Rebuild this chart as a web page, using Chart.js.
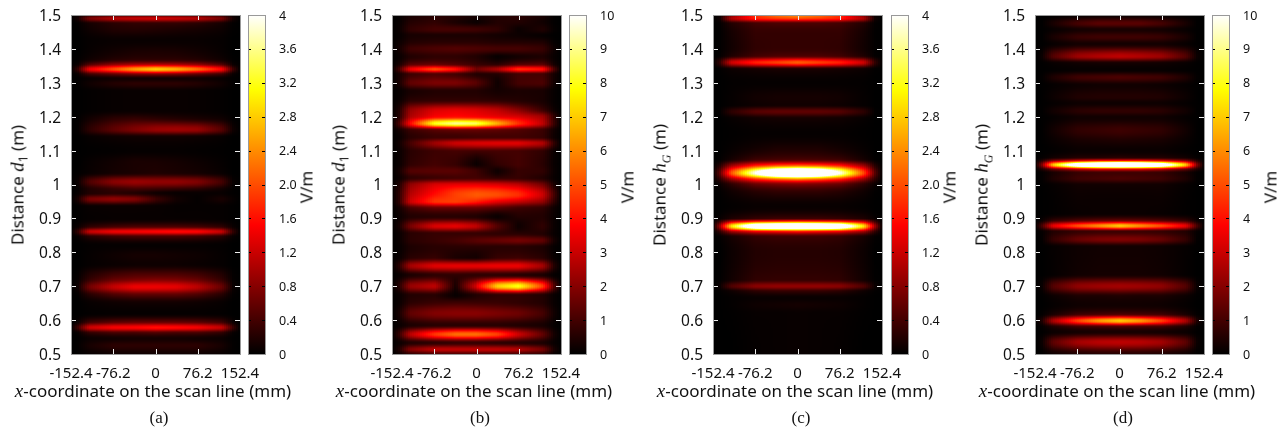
<!DOCTYPE html>
<html>
<head>
<meta charset="utf-8">
<script src="https://cdn.jsdelivr.net/npm/chart.js@4"></script>
<style>
	html, body { margin: 0; padding: 0; background: #fff; }
	#page { position: relative; width: 1286px; height: 431px; overflow: hidden; }
	canvas { position: absolute; top: 0; }
	.txt { position: absolute; white-space: nowrap; color: #111; font-family: "Noto Sans", sans-serif; font-size: 17px; transform: translate(-50%, -50%); }
	.txt i { font-family: "Liberation Serif", serif; font-size: 19px; }
	.txt sub { font-size: 12px; line-height: 0; }
	.rot { transform: translate(-50%, -50%) rotate(-90deg); }
	.cap { font-family: "Liberation Serif", serif; font-size: 17px; }
</style>
</head>
<body>
<div id="page"></div>
<script>
const scanX = [-152.4, -140, -120, -76.2, -38.1, 0, 38.1, 76.2, 120, 140, 152.4]

const xTicks = [-152.4, -76.2, 0, 76.2, 152.4]
const yTicks = [0.5, 0.6, 0.7, 0.8, 0.9, 1, 1.1, 1.2, 1.3, 1.4, 1.5]
const barTicks4 = ["0", "0.4", "0.8", "1.2", "1.6", "2.0", "2.4", "2.8", "3.2", "3.6", "4"]
const barTicks10 = ["0", "1", "2", "3", "4", "5", "6", "7", "8", "9", "10"]

// palette stops, fraction of range -> colour
const paletteStops = [0, 0.38, 0.78, 1]
const paletteColors = [[0, 0, 0], [255, 0, 0], [255, 255, 0], [255, 255, 255]]

//panel a
const distA = [1.5, 1.49, 1.475, 1.455, 1.425, 1.395, 1.37, 1.355, 1.34, 1.325, 1.312, 1.298, 1.275, 1.22, 1.195, 1.162, 1.14, 1.1, 1.065, 1.035, 1.008, 0.985, 0.975, 0.957, 0.935, 0.9, 0.876, 0.861, 0.846, 0.82, 0.79, 0.765, 0.738, 0.72, 0.698, 0.675, 0.65, 0.62, 0.595, 0.578, 0.562, 0.545, 0.525, 0.5]
const fieldA = [
	[0, .05, .3, .5, .55, .55, .55, .5, .3, .05, 0],
	[0, .12, .7, 1.05, 1.15, 1.2, 1.15, 1.05, .7, .12, 0],
	[0, .02, .13, .25, .3, .3, .3, .25, .13, .02, 0],
	[0, .01, .08, .18, .2, .18, .15, .12, .07, .01, 0],
	[0, 0, .03, .05, .05, .05, .05, .05, .03, 0, 0],
	[0, 0, .04, .1, .14, .15, .14, .1, .04, 0, 0],
	[0, .01, .09, .2, .25, .25, .25, .2, .09, .01, 0],
	[0, .06, .45, .8, .95, 1, .95, .8, .45, .06, 0],
	[0, .3, 1.4, 2, 2.5, 2.8, 2.6, 2.2, 1.5, .35, 0],
	[0, .05, .35, .55, .7, .75, .7, .55, .35, .05, 0],
	[0, .01, .05, .1, .1, .1, .1, .1, .05, .01, 0],
	[0, .01, .09, .2, .25, .25, .25, .2, .09, .01, 0],
	[0, 0, .02, .04, .05, .05, .05, .04, .02, 0, 0],
	[0, 0, .02, .04, .05, .05, .05, .04, .02, 0, 0],
	[0, .01, .1, .25, .3, .25, .2, .15, .09, .01, 0],
	[0, .02, .25, .55, .75, .9, .95, .9, .5, .08, 0],
	[0, 0, .04, .08, .1, .1, .1, .08, .04, 0, 0],
	[0, 0, .01, .02, .03, .03, .03, .02, .01, 0, 0],
	[0, 0, .04, .1, .15, .15, .12, .08, .03, 0, 0],
	[0, .01, .05, .12, .15, .18, .15, .12, .05, 0, 0],
	[0, .06, .45, .8, .9, .85, .85, .75, .4, .04, 0],
	[0, .03, .18, .3, .35, .3, .25, .2, .09, .01, 0],
	[0, .04, .18, .25, .2, .1, .05, .05, .05, .01, 0],
	[0, .14, .7, .85, .75, .35, .1, .02, .14, .04, 0],
	[0, .01, .05, .06, .06, .05, .03, .03, .03, .01, 0],
	[0, .01, .03, .04, .04, .04, .04, .04, .03, .01, 0],
	[0, .06, .27, .4, .45, .45, .45, .4, .27, .06, 0],
	[0, .28, 1.15, 1.4, 1.45, 1.5, 1.55, 1.5, 1.15, .28, 0],
	[0, .04, .22, .35, .4, .4, .4, .35, .22, .04, 0],
	[0, 0, .02, .03, .03, .03, .03, .03, .02, 0, 0],
	[0, 0, .03, .08, .12, .12, .1, .08, .03, 0, 0],
	[0, 0, .03, .06, .08, .08, .08, .06, .03, 0, 0],
	[0, .02, .18, .35, .42, .42, .42, .35, .18, .02, 0],
	[0, .04, .3, .6, .7, .75, .72, .6, .3, .03, 0],
	[0, .08, .65, 1.15, 1.4, 1.4, 1.35, 1.1, .6, .06, 0],
	[0, .02, .22, .45, .55, .55, .55, .45, .22, .02, 0],
	[0, 0, .04, .08, .1, .1, .1, .08, .04, 0, 0],
	[0, 0, .02, .03, .03, .03, .03, .03, .02, 0, 0],
	[0, .06, .35, .5, .55, .55, .55, .5, .35, .06, 0],
	[0, .35, 1.2, 1.45, 1.5, 1.6, 1.55, 1.45, 1.15, .32, 0],
	[0, .04, .27, .4, .4, .45, .4, .4, .27, .04, 0],
	[0, .01, .07, .1, .12, .12, .12, .1, .07, .01, 0],
	[0, .02, .13, .25, .25, .25, .25, .25, .13, .02, 0],
	[0, .01, .05, .1, .1, .1, .1, .1, .05, .01, 0]
]

//panel b
const distB = [1.5, 1.48, 1.457, 1.44, 1.42, 1.4, 1.377, 1.355, 1.34, 1.325, 1.3, 1.275, 1.25, 1.22, 1.2, 1.18, 1.16, 1.14, 1.122, 1.097, 1.06, 1.04, 1.02, 1, 0.97, 0.95, 0.93, 0.905, 0.877, 0.855, 0.835, 0.815, 0.785, 0.76, 0.733, 0.7, 0.673, 0.654, 0.62, 0.585, 0.558, 0.533, 0.513, 0.5]
const fieldB = [
	[0, .05, .35, .6, .5, .3, .5, .6, .35, .05, 0],
	[0, .08, .5, .7, .4, .15, .5, .5, .25, .04, 0],
	[0, .12, .7, 1, 1, .9, .7, .15, .45, .08, 0],
	[0, .08, .35, .4, .4, .4, .3, .2, .1, .02, 0],
	[0, .15, .5, .6, .6, .6, .5, .5, .45, .08, 0],
	[0, .25, .9, 1.1, 1.2, 1.1, 1, 1, .8, .2, 0],
	[0, .12, .5, .7, .7, .5, .1, .3, .45, .12, 0],
	[0, .3, 1.3, 1.5, 1.2, .8, .6, 1.2, 1.3, .3, 0],
	[0, .9, 3.5, 5, 4, 1.6, 2.5, 4.5, 4, 1.1, 0],
	[0, .3, .9, 1.2, 1, .5, .5, 1, 1, .3, 0],
	[0, .3, 1.4, 1.8, 1.8, 1.3, .2, 1, 1.1, .25, 0],
	[0, .08, .35, .5, .5, .5, .3, .4, .35, .08, 0],
	[0, .12, .6, .7, .7, .7, .6, .5, .35, .08, 0],
	[0, .4, 2.2, 3.2, 3.4, 3.2, 2.8, 2, .85, .2, 0],
	[0, .5, 2.6, 3.8, 4, 3.8, 3.5, 3.2, 2.4, .7, 0],
	[0, 1, 3.8, 8, 9, 8.5, 6.5, 4.5, 2.8, .8, 0],
	[0, .25, .85, 1.3, 1.5, 1.5, 1.4, 1.2, .85, .25, 0],
	[0, .12, .6, .9, .9, 1, 1, 1, .8, .2, 0],
	[0, .2, 1, 2.3, 3, 3.2, 3.3, 3.3, 2.6, .7, 0],
	[0, .12, .6, .9, 1, .9, 1, 1, .7, .15, 0],
	[0, .12, .7, 1, .8, .15, .7, 1, .6, .12, 0],
	[0, .25, 1.2, 1.3, 1.3, .9, .2, .8, .7, .15, 0],
	[0, .15, .7, .9, 1, 1, .7, .8, .5, .12, 0],
	[0, .4, 2.1, 3.2, 3.4, 3.4, 3.2, 2.8, 1.7, .4, 0],
	[0, .6, 2.7, 4, 4.8, 5.2, 5, 4.5, 3, 1, 0],
	[0, .6, 3, 4.6, 4.8, 4.3, 3.5, 3, 2.2, .7, 0],
	[0, .25, 1, 1.5, 1.5, 1.5, 1.2, .9, .7, .2, 0],
	[0, .15, .5, .6, .6, .5, .15, .5, .5, .15, 0],
	[0, .3, 1.7, 3.2, 3.4, 2.8, 1.2, .2, .7, .15, 0],
	[0, .12, .6, .8, .8, .8, .7, .6, .5, .12, 0],
	[0, .12, .6, .8, 1, 1.3, 1.5, 1.7, 1.4, .3, 0],
	[0, .08, .42, .6, .6, .6, .6, .6, .42, .08, 0],
	[0, .12, .6, .8, .4, .3, .8, .9, .6, .12, 0],
	[0, .55, 2.4, 3.3, 3.4, 3.4, 3.5, 3.5, 2.4, .5, 0],
	[0, .12, .42, .7, .7, .7, .7, .6, .42, .08, 0],
	[0, .5, 2.2, 2.8, .3, 3.2, 7, 8, 4.7, 1.2, 0],
	[0, .12, .5, .6, .1, .5, .7, .7, .5, .12, 0],
	[0, .12, .6, .8, .8, .8, .8, .7, .5, .12, 0],
	[0, .3, 1.4, 1.9, 2, 2, 1.8, 1.6, 1, .25, 0],
	[0, .12, .42, .6, .6, .6, .6, .5, .35, .08, 0],
	[0, .7, 2.7, 4.6, 5.5, 5.5, 4.8, 3, 1.4, .3, 0],
	[0, .15, .5, .7, .8, .8, .7, .6, .42, .12, 0],
	[0, .4, 1.9, 2.8, 2.8, 2.8, 2.8, 2.6, 1.7, .35, 0],
	[0, .2, .85, 1.3, 1.3, 1.3, 1.3, 1.2, .85, .15, 0]
]

//panel c
const distC = [1.5, 1.49, 1.475, 1.445, 1.405, 1.38, 1.36, 1.34, 1.3, 1.255, 1.235, 1.215, 1.195, 1.15, 1.11, 1.075, 1.057, 1.034, 1.015, 1, 0.975, 0.935, 0.9, 0.893, 0.877, 0.86, 0.845, 0.8, 0.72, 0.7, 0.685, 0.665, 0.645, 0.62, 0.5]
const fieldC = [
	[0, .04, .8, 1.8, 2.2, 2.4, 2.2, 1.8, .8, .04, 0],
	[0, .08, 1, 1.7, 1.9, 2, 1.9, 1.7, 1, .08, 0],
	[0, .02, .2, .4, .45, .45, .45, .4, .2, .02, 0],
	[0, .01, .12, .3, .3, .3, .3, .3, .12, .01, 0],
	[0, .01, .1, .28, .3, .3, .3, .28, .1, .01, 0],
	[0, .02, .17, .38, .45, .45, .45, .38, .17, .02, 0],
	[0, .28, 1.2, 1.7, 1.9, 2.1, 1.9, 1.7, 1.2, .28, 0],
	[0, .01, .07, .12, .15, .15, .15, .12, .07, .01, 0],
	[0, 0, .02, .03, .03, .03, .03, .03, .02, 0, 0],
	[0, 0, .03, .1, .12, .12, .12, .1, .03, 0, 0],
	[0, 0, .03, .08, .1, .1, .1, .08, .03, 0, 0],
	[0, .01, .25, .5, .55, .55, .55, .5, .25, .01, 0],
	[0, 0, .04, .1, .12, .12, .12, .1, .04, 0, 0],
	[0, 0, .01, .03, .03, .03, .03, .03, .01, 0, 0],
	[0, 0, .03, .1, .15, .15, .15, .1, .03, 0, 0],
	[0, .01, .12, .35, .4, .42, .4, .35, .12, .01, 0],
	[0, .2, .85, 1.6, 1.9, 2, 1.9, 1.6, .85, .2, 0],
	[0, .55, 2, 4, 5.5, 6, 5.5, 4, 1.95, .5, 0],
	[0, .25, .85, 1.7, 2.1, 2.3, 2.1, 1.7, .85, .25, 0],
	[0, .06, .25, .6, .7, .75, .7, .6, .25, .06, 0],
	[0, .01, .08, .2, .25, .25, .25, .2, .08, .01, 0],
	[0, 0, .02, .05, .05, .05, .05, .05, .02, 0, 0],
	[0, .04, .17, .3, .35, .35, .35, .3, .17, .04, 0],
	[0, .25, .85, 1.3, 1.4, 1.5, 1.4, 1.3, .85, .25, 0],
	[0, .9, 2.9, 5, 5.5, 5.5, 5.5, 5, 2.9, .9, 0],
	[0, .25, .85, 1.3, 1.4, 1.5, 1.4, 1.3, .85, .25, 0],
	[0, .02, .13, .3, .35, .35, .35, .3, .13, .02, 0],
	[0, 0, .07, .2, .22, .22, .22, .2, .07, 0, 0],
	[0, .01, .1, .28, .3, .3, .3, .28, .1, .01, 0],
	[0, .06, .45, .8, .85, .85, .85, .8, .45, .06, 0],
	[0, .01, .08, .25, .3, .3, .3, .25, .08, .01, 0],
	[0, 0, .02, .05, .05, .05, .05, .05, .02, 0, 0],
	[0, 0, .02, .08, .1, .12, .1, .08, .02, 0, 0],
	[0, 0, .01, .04, .04, .05, .04, .04, .01, 0, 0],
	[0, 0, 0, .03, .04, .05, .04, .03, 0, 0, 0]
]

//panel d
const distD = [1.5, 1.475, 1.457, 1.435, 1.415, 1.378, 1.358, 1.338, 1.316, 1.293, 1.258, 1.24, 1.217, 1.198, 1.16, 1.13, 1.1, 1.08, 1.072, 1.058, 1.044, 1.034, 1.018, 0.998, 0.949, 0.915, 0.895, 0.878, 0.861, 0.838, 0.816, 0.757, 0.735, 0.7, 0.67, 0.645, 0.618, 0.598, 0.58, 0.565, 0.535, 0.5]
const fieldD = [
	[0, 0, .02, .1, .15, .15, .15, .1, .02, 0, 0],
	[0, .02, .35, 1, 1.3, 1.3, 1.3, 1, .35, .02, 0],
	[0, .01, .12, .3, .35, .35, .35, .3, .12, .01, 0],
	[0, .02, .35, .8, .9, .9, .9, .8, .35, .02, 0],
	[0, .01, .12, .3, .3, .3, .3, .3, .12, .01, 0],
	[0, .15, 1.2, 2.3, 2.6, 2.8, 2.6, 2.3, 1.2, .15, 0],
	[0, .02, .13, .25, .3, .3, .3, .25, .13, .02, 0],
	[0, .01, .05, .1, .1, .1, .1, .1, .05, .01, 0],
	[0, .04, .42, .9, 1, 1.1, 1, .9, .42, .04, 0],
	[0, .01, .08, .2, .25, .25, .25, .2, .08, .01, 0],
	[0, .01, .17, .45, .5, .5, .5, .45, .17, .01, 0],
	[0, .01, .08, .2, .2, .2, .2, .2, .08, .01, 0],
	[0, .02, .25, .6, .7, .7, .7, .6, .25, .02, 0],
	[0, .01, .08, .25, .25, .25, .25, .25, .08, .01, 0],
	[0, .01, .25, .7, .8, .9, .8, .7, .25, .01, 0],
	[0, .01, .13, .35, .4, .45, .4, .35, .13, .01, 0],
	[0, 0, .04, .15, .15, .15, .15, .15, .04, 0, 0],
	[0, .04, .25, .5, .5, .6, .5, .5, .25, .04, 0],
	[0, .4, 1.5, 2.5, 3, 3, 3, 2.5, 1.5, .4, 0],
	[0, 1.8, 6.8, 12, 14, 15, 14, 12, 6.8, 1.8, 0],
	[0, .4, 1.35, 2.5, 3, 3, 3, 2.5, 1.35, .4, 0],
	[0, .04, .35, .8, .9, .9, .9, .8, .35, .04, 0],
	[0, .04, .42, .9, 1, 1.1, 1, .9, .42, .04, 0],
	[0, .01, .08, .25, .25, .25, .25, .25, .08, .01, 0],
	[0, 0, .04, .15, .15, .15, .15, .15, .04, 0, 0],
	[0, 0, .04, .12, .15, .15, .15, .12, .04, 0, 0],
	[0, .12, .7, 1.1, 1.3, 1.4, 1.3, 1.1, .7, .12, 0],
	[0, 1, 3.4, 5, 6, 7, 6, 5, 3.4, 1, 0],
	[0, .08, .5, .8, .9, .9, .9, .8, .5, .08, 0],
	[0, .04, .75, 1.5, 1.8, 1.9, 1.8, 1.5, .75, .04, 0],
	[0, .01, .08, .2, .25, .25, .25, .2, .08, .01, 0],
	[0, 0, .07, .22, .28, .28, .28, .22, .07, 0, 0],
	[0, 0, .07, .25, .3, .3, .3, .25, .07, 0, 0],
	[0, .12, 1.2, 2.1, 2.3, 2.4, 2.3, 2.1, 1.2, .12, 0],
	[0, .02, .17, .4, .4, .45, .4, .4, .17, .02, 0],
	[0, 0, .08, .22, .25, .25, .25, .22, .08, 0, 0],
	[0, .04, .35, .9, 1, 1.1, 1, .9, .35, .04, 0],
	[0, .4, 2.5, 4.8, 6.2, 7, 6.2, 4.8, 2.5, .4, 0],
	[0, .04, .42, .9, 1, 1.1, 1, .9, .42, .04, 0],
	[0, .02, .17, .3, .35, .35, .35, .3, .17, .02, 0],
	[0, .15, 1.35, 2.4, 2.7, 2.8, 2.7, 2.4, 1.35, .15, 0],
	[0, .02, .25, .5, .6, .6, .6, .5, .25, .02, 0]
]

const page = document.getElementById("page")
const plotTop = 15
const plotBottom = 354
const plotWidth = 169
const barWidth = 17
const fontName = '"Noto Sans", sans-serif'

function paletteColor(v, max) {
	const f = Math.min(Math.max(v / max, 0), 1)
	let i = 0
	while (i < paletteStops.length - 2 && f > paletteStops[i + 1]) i++
	const t = (f - paletteStops[i]) / (paletteStops[i + 1] - paletteStops[i])
	const a = paletteColors[i], b = paletteColors[i + 1]
	return `rgb(${Math.round(a[0] + (b[0] - a[0]) * t)},${Math.round(a[1] + (b[1] - a[1]) * t)},${Math.round(a[2] + (b[2] - a[2]) * t)})`
}

// smooth shading between rows: monotone cubic, so bands keep a round profile
function rowSlopes(ds, vs) {
	const n = ds.length
	const m = new Array(n).fill(0)
	for (let i = 1; i < n - 1; i++) {
		const s0 = (vs[i] - vs[i - 1]) / (ds[i] - ds[i - 1])
		const s1 = (vs[i + 1] - vs[i]) / (ds[i + 1] - ds[i])
		m[i] = s0 * s1 <= 0 ? 0 : 2 * s0 * s1 / (s0 + s1)
	}
	return m
}

function addText(html, x, y, cls) {
	const el = document.createElement("div")
	el.className = "txt " + (cls || "")
	el.style.left = x + "px"
	el.style.top = y + "px"
	el.innerHTML = html
	page.appendChild(el)
}

const heatPlugin = {
	id: "heat",
	beforeDatasetsDraw(chart) {
		const cfg = chart.options.plugins.heat
		const xs = chart.scales.x, ys = chart.scales.y
		const ctx = chart.ctx
		// ascending copy of the read rows
		const ds = cfg.dist.slice().reverse()
		const rows = cfg.field.slice().reverse()
		const slopes = scanX.map((_, c) => rowSlopes(ds, rows.map((r) => r[c])))
		const stepsY = 339, stepsX = 85
		let k = 0
		for (let j = 0; j < stepsY; j++) {
			const d = 0.5 + (j + 0.5) / stepsY
			while (k < ds.length - 2 && d > ds[k + 1]) k++
			const h = ds[k + 1] - ds[k]
			const t = (d - ds[k]) / h
			const col = rows[k].map((v, c) => {
				const t2 = t * t, t3 = t2 * t
				return (2 * t3 - 3 * t2 + 1) * v + (t3 - 2 * t2 + t) * h * slopes[c][k] + (-2 * t3 + 3 * t2) * rows[k + 1][c] + (t3 - t2) * h * slopes[c][k + 1]
			})
			const py0 = Math.round(ys.getPixelForValue(0.5 + j / stepsY))
			const py1 = Math.round(ys.getPixelForValue(0.5 + (j + 1) / stepsY))
			let c = 0
			for (let i = 0; i < stepsX; i++) {
				const x = -152.4 + 304.8 * (i + 0.5) / stepsX
				while (c < scanX.length - 2 && x > scanX[c + 1]) c++
				const u = (x - scanX[c]) / (scanX[c + 1] - scanX[c])
				const px0 = Math.round(xs.getPixelForValue(-152.4 + 304.8 * i / stepsX))
				const px1 = Math.round(xs.getPixelForValue(-152.4 + 304.8 * (i + 1) / stepsX))
				ctx.fillStyle = paletteColor(col[c] + (col[c + 1] - col[c]) * u, cfg.max)
				ctx.fillRect(px0, py1, px1 - px0, py0 - py1)
			}
		}
	},
	afterDatasetsDraw(chart) {
		const xs = chart.scales.x, ys = chart.scales.y
		const a = chart.chartArea
		const ctx = chart.ctx
		ctx.save()
		ctx.strokeStyle = "#eee"
		ctx.lineWidth = 1
		ctx.beginPath()
		xTicks.slice(1, -1).forEach((v) => {
			const p = Math.round(xs.getPixelForValue(v)) + 0.5
			ctx.moveTo(p, a.top); ctx.lineTo(p, a.top + 5)
			ctx.moveTo(p, a.bottom); ctx.lineTo(p, a.bottom - 5)
		})
		yTicks.slice(1, -1).forEach((v) => {
			const p = Math.round(ys.getPixelForValue(v)) + 0.5
			ctx.moveTo(a.left, p); ctx.lineTo(a.left + 5, p)
			ctx.moveTo(a.right, p); ctx.lineTo(a.right - 5, p)
		})
		ctx.stroke()
		ctx.strokeStyle = "#999"
		ctx.strokeRect(a.left + 0.5, a.top + 0.5, a.right - a.left, a.bottom - a.top)
		ctx.restore()
	}
}

const barFramePlugin = {
	id: "barFrame",
	afterDatasetsDraw(chart) {
		const ys = chart.scales.y
		const a = chart.chartArea
		const ctx = chart.ctx
		ctx.save()
		ctx.strokeStyle = "#000"
		ctx.lineWidth = 1
		ctx.beginPath()
		ys.ticks.slice(1, -1).forEach((t) => {
			const p = Math.round(ys.getPixelForValue(t.value)) + 0.5
			ctx.moveTo(a.left, p); ctx.lineTo(a.left + 3, p)
			ctx.moveTo(a.right, p); ctx.lineTo(a.right - 3, p)
		})
		ctx.stroke()
		ctx.strokeStyle = "#999"
		ctx.strokeRect(a.left + 0.5, a.top + 0.5, a.right - a.left, a.bottom - a.top)
		ctx.restore()
	}
}

function newCanvas(left, width) {
	const c = document.createElement("canvas")
	c.width = width
	c.height = 431
	c.style.left = left + "px"
	page.appendChild(c)
	return c
}

function drawHeat(left, dist, field, max) {
	// canvas starts 71px left of the plot, 30px spare on the right for the last tick label
	const canvas = newCanvas(left - 71, 71 + plotWidth + 30)
	const points = []
	dist.forEach((d, r) => scanX.forEach((x, c) => points.push({ x: x, y: d, v: field[r][c] })))
	new Chart(canvas, {
		type: "scatter",
		data: { datasets: [{ data: points, pointRadius: 0, pointHoverRadius: 0 }] },
		options: {
			responsive: false,
			animation: false,
			layout: { padding: { top: plotTop, bottom: 431 - plotBottom - 30, right: 30, left: 0 } },
			plugins: {
				legend: { display: false },
				tooltip: { enabled: false },
				heat: { dist: dist, field: field, max: max }
			},
			scales: {
				x: {
					type: "linear", min: -152.4, max: 152.4,
					grid: { display: false }, border: { display: false },
					afterBuildTicks: (s) => { s.ticks = xTicks.map((v) => ({ value: v })) },
					afterFit: (s) => { s.height = 30 },
					ticks: { autoSkip: false, maxRotation: 0, padding: 3, color: "#111", font: { family: fontName, size: 15 }, callback: (v) => String(v) }
				},
				y: {
					type: "linear", min: 0.5, max: 1.5,
					grid: { display: false }, border: { display: false },
					afterBuildTicks: (s) => { s.ticks = yTicks.map((v) => ({ value: v })) },
					afterFit: (s) => { s.width = 71 },
					ticks: { autoSkip: false, padding: 2, labelOffset: 1.5, color: "#111", font: { family: fontName, size: 15.5 }, callback: (v) => String(v) }
				}
			}
		},
		plugins: [heatPlugin]
	})
}

function drawBar(left, max, labels) {
	const canvas = newCanvas(left - 4, 4 + barWidth + 40)
	new Chart(canvas, {
		type: "bar",
		data: {
			labels: ["V/m"],
			datasets: [{
				data: [[0, max]],
				barPercentage: 1,
				categoryPercentage: 1,
				backgroundColor: (c) => {
					const a = c.chart.chartArea
					if (!a) return "#000"
					const g = c.chart.ctx.createLinearGradient(0, a.bottom, 0, a.top)
					paletteStops.forEach((s, i) => g.addColorStop(s, `rgb(${paletteColors[i].join(",")})`))
					return g
				}
			}]
		},
		options: {
			responsive: false,
			animation: false,
			layout: { padding: { top: plotTop, bottom: 431 - plotBottom, left: 4, right: 0 } },
			plugins: { legend: { display: false }, tooltip: { enabled: false } },
			scales: {
				x: { display: false },
				y: {
					position: "right", min: 0, max: max,
					grid: { display: false }, border: { display: false },
					afterBuildTicks: (s) => { s.ticks = labels.map((l) => ({ value: parseFloat(l) })) },
					afterFit: (s) => { s.width = 40 },
					ticks: { autoSkip: false, padding: 6, labelOffset: 1, color: "#111", font: { family: fontName, size: 12.5 }, callback: (v, i) => labels[i] }
				}
			}
		},
		plugins: [barFramePlugin]
	})
}

const dLabel = "Distance <i>d</i><sub>1</sub> (m)"
const hLabel = "Distance <i>h<sub>G</sub></i> (m)"
const xLabel = "<i>x</i>-coordinate on the scan line (mm)"

function drawPanel(plotLeft, barLeft, dist, field, max, labels, yLabel, caption) {
	drawHeat(plotLeft, dist, field, max)
	drawBar(barLeft, max, labels)
	addText(yLabel, plotLeft - 54, 185, "rot")
	addText(xLabel, plotLeft + 82, 390)
	addText("V/m", barLeft + 58, 187, "rot")
	addText(caption, plotLeft + 88, 418, "cap")
}

drawPanel(71, 248, distA, fieldA, 4, barTicks4, dLabel, "(a)")
drawPanel(392, 569, distB, fieldB, 10, barTicks10, dLabel, "(b)")
drawPanel(713, 891, distC, fieldC, 4, barTicks4, hLabel, "(c)")
drawPanel(1035, 1212, distD, fieldD, 10, barTicks10, hLabel, "(d)")
</script>
</body>
</html>
